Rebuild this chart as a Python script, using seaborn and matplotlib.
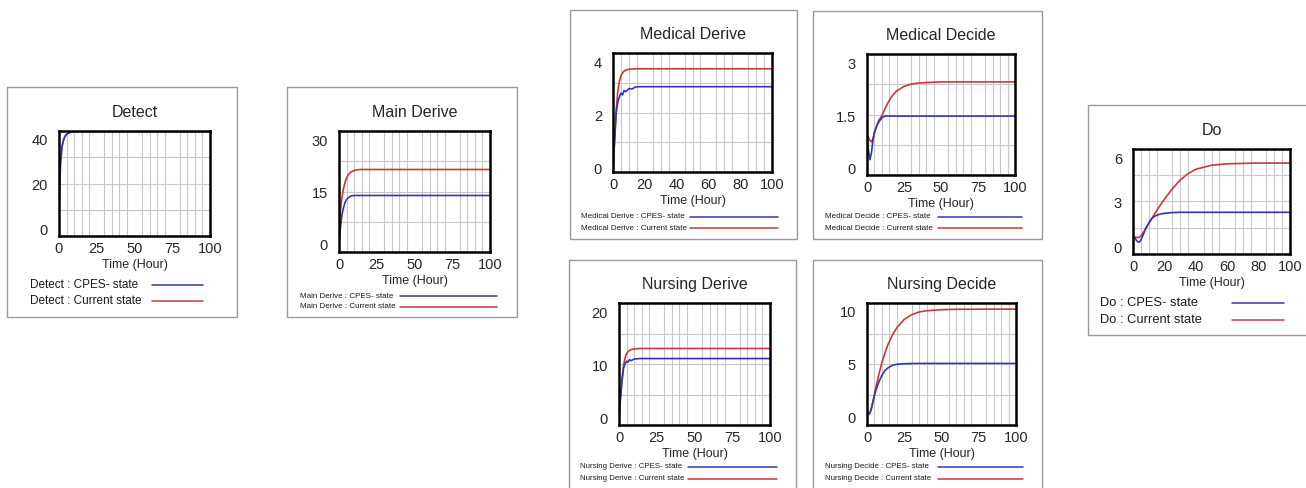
import numpy as np
import matplotlib
matplotlib.use("Agg")
import matplotlib.pyplot as plt
from matplotlib.patches import Rectangle
from matplotlib.lines import Line2D
import seaborn as sns

W, H = 1306, 488
BLUE = "#3535b0"
RED = "#c83a3a"

sns.set_theme(style="white")
plt.rcParams["font.family"] = ["Liberation Sans", "DejaVu Sans"]

# time grid (hours) shared by all series
T = [0, 1, 2, 3, 4, 5, 6, 7, 8, 10, 12, 14, 17, 20, 25, 30, 35, 40, 50, 60, 80, 100]

detect_cpes = [10, 30, 37, 40, 41.6, 42.5, 43.0, 43.3, 43.5, 43.7, 43.8, 43.8, 43.8, 43.8, 43.8, 43.8, 43.8, 43.8, 43.8, 43.8, 43.8, 43.8]
detect_current = [10, 30, 37, 40, 41.6, 42.5, 43.0, 43.3, 43.5, 43.7, 43.8, 43.8, 43.8, 43.8, 43.8, 43.8, 43.8, 43.8, 43.8, 43.8, 43.8, 43.8]

main_cpes = [0, 5, 8.5, 10.5, 12.0, 12.8, 13.3, 13.6, 13.9, 14.0, 14.0, 14.0, 14.0, 14.0, 14.0, 14.0, 14.0, 14.0, 14.0, 14.0, 14.0, 14.0]
main_current = [2, 10, 13.5, 16, 17.8, 19.0, 19.9, 20.4, 20.8, 21.2, 21.4, 21.5, 21.5, 21.5, 21.5, 21.5, 21.5, 21.5, 21.5, 21.5, 21.5, 21.5]

med_derive_cpes = [0, 1.0, 2.1, 2.5, 2.7, 2.85, 2.78, 2.95, 2.9, 3.02, 3.0, 3.08, 3.09, 3.09, 3.09, 3.09, 3.09, 3.09, 3.09, 3.09, 3.09, 3.09]
med_derive_current = [0, 1.1, 2.2, 2.9, 3.3, 3.5, 3.62, 3.68, 3.72, 3.75, 3.76, 3.77, 3.77, 3.77, 3.77, 3.77, 3.77, 3.77, 3.77, 3.77, 3.77, 3.77]

med_decide_cpes = [0.95, 0.5, 0.25, 0.45, 0.8, 1.05, 1.15, 1.25, 1.33, 1.45, 1.5, 1.5, 1.5, 1.5, 1.5, 1.5, 1.5, 1.5, 1.5, 1.5, 1.5, 1.5]
med_decide_current = [0.95, 0.88, 0.8, 0.76, 0.85, 1.0, 1.15, 1.28, 1.38, 1.5, 1.7, 1.87, 2.08, 2.22, 2.35, 2.42, 2.45, 2.46, 2.48, 2.48, 2.48, 2.48]

nurs_derive_cpes = [0, 4, 7, 9.5, 10.3, 10.8, 10.6, 11.1, 10.9, 11.2, 11.25, 11.3, 11.3, 11.3, 11.3, 11.3, 11.3, 11.3, 11.3, 11.3, 11.3, 11.3]
nurs_derive_current = [0, 4, 7.5, 10, 11.4, 12.2, 12.6, 12.85, 13.0, 13.1, 13.15, 13.2, 13.2, 13.2, 13.2, 13.2, 13.2, 13.2, 13.2, 13.2, 13.2, 13.2]

nurs_decide_cpes = [0.5, 0.3, 0.45, 0.9, 1.5, 2.1, 2.6, 3.0, 3.4, 4.0, 4.45, 4.7, 4.95, 5.05, 5.1, 5.12, 5.13, 5.13, 5.13, 5.13, 5.13, 5.13]
nurs_decide_current = [0.5, 0.3, 0.45, 0.9, 1.5, 2.2, 2.9, 3.5, 4.1, 5.2, 6.1, 6.9, 7.8, 8.5, 9.3, 9.75, 10.0, 10.12, 10.22, 10.25, 10.27, 10.27]

do_cpes = [0.7, 0.68, 0.5, 0.38, 0.35, 0.5, 0.72, 0.98, 1.25, 1.65, 1.95, 2.12, 2.24, 2.3, 2.35, 2.37, 2.37, 2.37, 2.37, 2.37, 2.37, 2.37]
do_current = [0.7, 0.7, 0.68, 0.66, 0.68, 0.78, 0.92, 1.08, 1.25, 1.6, 1.95, 2.3, 2.8, 3.25, 3.95, 4.55, 4.98, 5.28, 5.55, 5.65, 5.7, 5.7]

# layout in pixels: box (x0, y0, x1, y1), axes (left, top, right, bottom),
# legend: text x, row centres y, sample line x-range
PANELS = [
    dict(title="Detect", cpes=detect_cpes, cur=detect_current,
         box=(7, 87, 237, 317), axes=(59, 131, 210, 236), ylim=(-3.1, 44.0),
         yticks=[0, 20, 40], ylabels=["0", "20", "40"], xstep=25,
         leg_x=30, leg_y=(285, 301), leg_line=(152, 203), leg_fs=8.5),
    dict(title="Main Derive", cpes=main_cpes, cur=main_current,
         box=(287, 87, 517, 317), axes=(339, 131, 490, 252), ylim=(-2.3, 32.6),
         yticks=[0, 15, 30], ylabels=["0", "15", "30"], xstep=25,
         leg_x=300, leg_y=(296, 307), leg_line=(400, 497), leg_fs=5.8),
    dict(title="Medical Derive", cpes=med_derive_cpes, cur=med_derive_current,
         box=(570, 10, 797, 239), axes=(613, 53, 772, 172), ylim=(-0.15, 4.37),
         yticks=[0, 2, 4], ylabels=["0", "2", "4"], xstep=20,
         leg_x=581, leg_y=(217, 228), leg_line=(690, 778), leg_fs=5.8),
    dict(title="Medical Decide", cpes=med_decide_cpes, cur=med_decide_current,
         box=(813, 11, 1042, 239), axes=(867, 54, 1015, 175), ylim=(-0.19, 3.28),
         yticks=[0, 1.5, 3], ylabels=["0", "1.5", "3"], xstep=25,
         leg_x=825, leg_y=(217, 228), leg_line=(938, 1022), leg_fs=5.8),
    dict(title="Nursing Derive", cpes=nurs_derive_cpes, cur=nurs_derive_current,
         box=(569, 260, 796, 495), axes=(619, 303, 770, 425), ylim=(-1.26, 21.8),
         yticks=[0, 10, 20], ylabels=["0", "10", "20"], xstep=25,
         leg_x=580, leg_y=(467, 479), leg_line=(688, 777), leg_fs=5.7),
    dict(title="Nursing Decide", cpes=nurs_decide_cpes, cur=nurs_decide_current,
         box=(813, 260, 1042, 495), axes=(867, 303, 1016, 425), ylim=(-0.7, 10.85),
         yticks=[0, 5, 10], ylabels=["0", "5", "10"], xstep=25,
         leg_x=825, leg_y=(467, 479), leg_line=(938, 1023), leg_fs=5.7),
    dict(title="Do", cpes=do_cpes, cur=do_current,
         box=(1088, 105, 1310, 335), axes=(1133, 149, 1290, 254), ylim=(-0.45, 6.65),
         yticks=[0, 3, 6], ylabels=["0", "3", "6"], xstep=20,
         leg_x=1100, leg_y=(303, 320), leg_line=(1232, 1284), leg_fs=9.3),
]

fig = plt.figure(figsize=(W / 100, H / 100), dpi=100)
fig.patch.set_facecolor("white")

for p in PANELS:
    x0, y0, x1, y1 = p["box"]
    fig.add_artist(Rectangle((x0 / W, 1 - y1 / H), (x1 - x0) / W, (y1 - y0) / H,
                             transform=fig.transFigure, fill=False,
                             edgecolor="#9a9a9a", linewidth=1))

    l, t, r, b = p["axes"]
    ax = fig.add_axes([l / W, 1 - b / H, (r - l) / W, (b - t) / H])

    sns.lineplot(x=T, y=p["cur"], ax=ax, color=RED, linewidth=1.2, legend=False)
    sns.lineplot(x=T, y=p["cpes"], ax=ax, color=BLUE, linewidth=1.2, legend=False)

    lo, hi = p["ylim"]
    ax.set_xlim(0, 100)
    ax.set_ylim(lo, hi)
    ax.set_xticks(np.arange(0, 101, p["xstep"]))
    ax.set_yticks(p["yticks"], labels=p["ylabels"])
    ax.set_xticks(np.arange(0, 101, 5), minor=True)
    ax.set_yticks(np.linspace(lo, hi, 5), minor=True)
    ax.grid(False)
    ax.grid(which="minor", color="#c8c8c8", linewidth=0.8)
    ax.tick_params(which="both", length=0)
    ax.tick_params(axis="x", pad=4.5, labelsize=10.5)
    ax.tick_params(axis="y", pad=8, labelsize=10.5)
    for s in ax.spines.values():
        s.set_color("black")
        s.set_linewidth(1.8)
    ax.set_xlabel("Time (Hour)", fontsize=9, labelpad=2)
    ax.set_ylabel("")
    ax.set_title(p["title"], fontsize=11.5, pad=10)

    # legend: label on the left, sample line on the right (Vensim style)
    labels = [f"{p['title']} : CPES- state", f"{p['title']} : Current state"]
    hx0, hx1 = p["leg_line"]
    for label, ry, col in zip(labels, p["leg_y"], [BLUE, RED]):
        fig.text(p["leg_x"] / W, 1 - ry / H, label, ha="left", va="center",
                 fontsize=p["leg_fs"], color="#1a1a1a")
        fig.add_artist(Line2D([hx0 / W, hx1 / W], [1 - ry / H, 1 - ry / H],
                              transform=fig.transFigure, color=col, linewidth=1.1))

fig.savefig("out.png", dpi=100)
